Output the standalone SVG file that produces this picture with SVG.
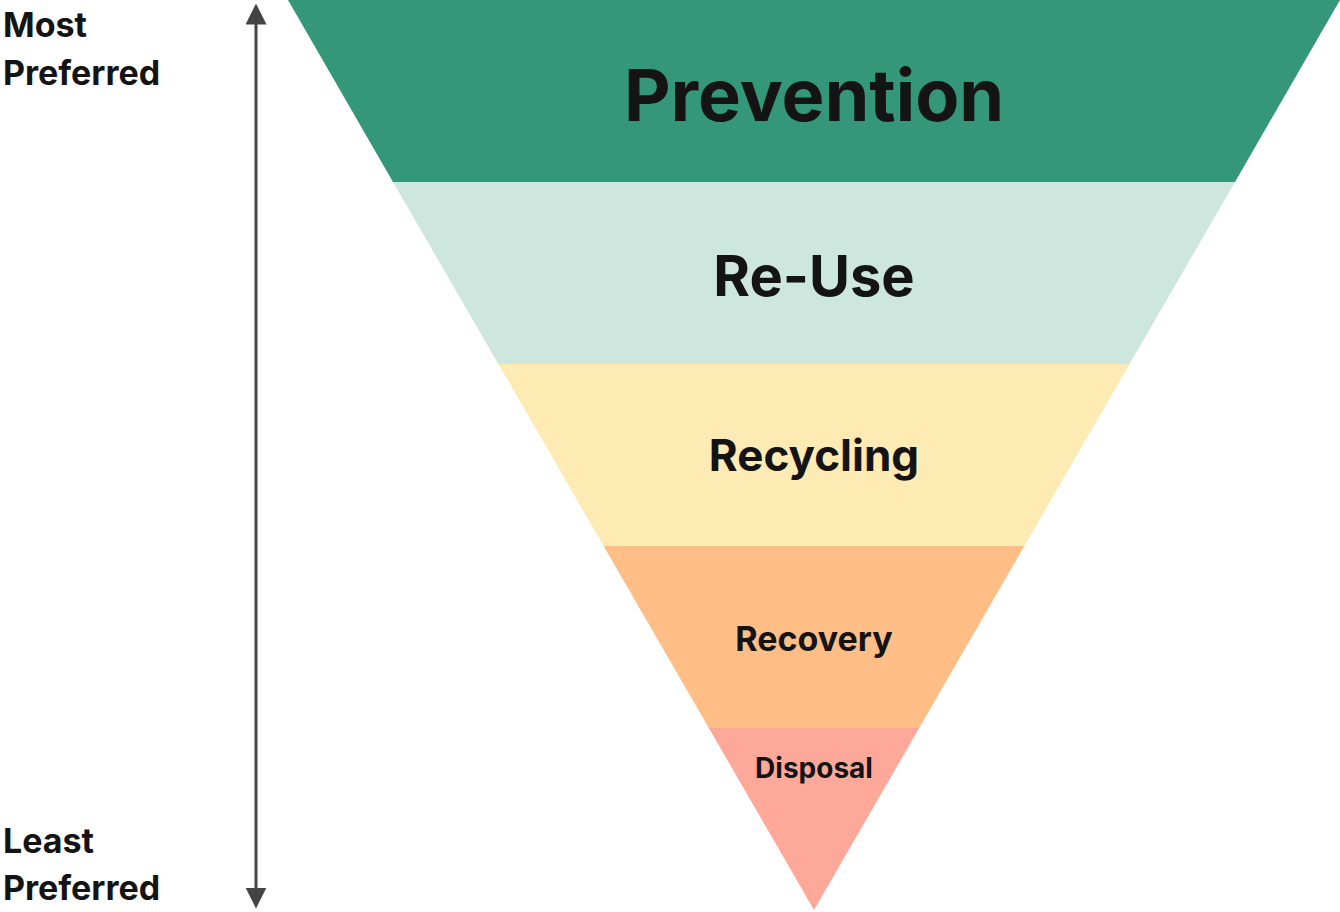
<svg xmlns="http://www.w3.org/2000/svg" width="1340" height="912" viewBox="0 0 1340 912">
<defs>
<style>
text{font-family:Inter,"Liberation Sans",sans-serif;font-weight:700;fill:#141414}
.c{text-anchor:middle}
</style>
<marker id="ah" viewBox="0 0 10 10" refX="5" refY="5" markerWidth="7" markerHeight="7" orient="auto-start-reverse"><path d="M0,0L10,5L0,10z" fill="#444"/></marker>
</defs>
<rect width="1340" height="912" fill="#fff"/>
<g id="connectors"><line x1="256" y1="14" x2="256" y2="898" stroke="#444" stroke-width="3" marker-start="url(#ah)" marker-end="url(#ah)"/></g>
<g id="prevention"><polygon points="288,0 1340,0 1235,182 393,182" fill="#34977a"/><text class="c" x="814" y="121" font-size="72">Prevention</text></g>
<g id="reuse"><polygon points="393,182 1235,182 1129.6,364 498.4,364" fill="#cde7df"/><text class="c" x="814" y="296" font-size="56">Re-Use</text></g>
<g id="recycling"><polygon points="498.4,364 1129.6,364 1024.4,546 603.6,546" fill="#feeab3"/><text class="c" x="814" y="471" font-size="44">Recycling</text></g>
<g id="recovery"><polygon points="603.6,546 1024.4,546 919.2,728 708.8,728" fill="#febe86"/><text class="c" x="814" y="651" font-size="34">Recovery</text></g>
<g id="disposal"><polygon points="708.8,728 919.2,728 814,910" fill="#fea89a"/><text class="c" x="814" y="778" font-size="28">Disposal</text></g>
<g id="most"><text x="3" y="37" font-size="34">Most</text><text x="3" y="85" font-size="34">Preferred</text></g>
<g id="least"><text x="3" y="853" font-size="34">Least</text><text x="3" y="900" font-size="34">Preferred</text></g>
</svg>
